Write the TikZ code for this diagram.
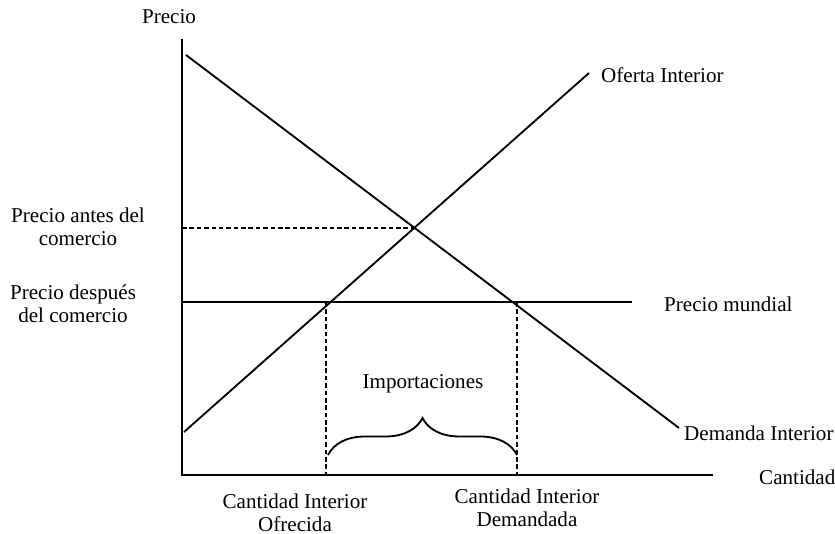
\documentclass[tikz,border=0pt]{standalone}
\usepackage{fontspec}
\setmainfont{Liberation Serif}
\usetikzlibrary{decorations.pathreplacing}
\tikzset{
    curve/.style = {line width = 1.05pt},
    guide/.style = {line width = 0.95pt, dash pattern = on 2.6pt off 1.6pt},
    lbl/.style = {font = \fontsize{12}{13}\selectfont, align = center, inner sep = 0.5pt}
}
\begin{document}
\begin{tikzpicture}
    \useasboundingbox (0, 0) rectangle (16.7, 10.68);

    \pgfmathsetmacro{\xo}{3.64};
    \pgfmathsetmacro{\yo}{1.18};
    \pgfmathsetmacro{\ym}{4.64};

    % ejes
    \coordinate (O) at (\xo, \yo);
    \coordinate (ytop) at (\xo, 9.9);
    \coordinate (xend) at (14.26, \yo);
    \draw [curve] (ytop) -- (O) -- (xend);
    \node (precio) [lbl] at (3.38, 10.34) {Precio};
    \node (cantidad) [lbl, anchor = west] at (15.16, 1.14) {Cantidad};

    % oferta y demanda
    \coordinate (D1) at (3.72, 9.58);
    \coordinate (D2) at (13.58, 2.12);
    \coordinate (S1) at (3.68, 2.04);
    \coordinate (S2) at (11.78, 9.22);
    \draw [curve] (D1) -- (D2);
    \draw [curve] (S1) -- (S2);
    \node (oferta) [lbl, anchor = west] at (12.0, 9.18) {Oferta Interior};
    \node (demanda) [lbl, anchor = west] at (13.66, 2.02) {Demanda Interior};

    % equilibrio sin comercio
    \coordinate (E) at (intersection of D1--D2 and S1--S2);
    \draw [guide] (O |- E) -- (E);
    \node (antes) [lbl] at (1.56, 6.14) {Precio antes del\\comercio};

    % precio mundial
    \coordinate (W1) at (\xo, \ym);
    \coordinate (W2) at (12.64, \ym);
    \draw [curve] (W1) -- (W2);
    \node (mundial) [lbl, anchor = west] at (13.26, 4.6) {Precio mundial};
    \node (despues) [lbl] at (1.46, 4.6) {Precio después\\del comercio};

    \coordinate (A) at (6.52, \ym);
    \coordinate (B) at (10.34, \ym);
    \draw [guide] (A) -- (A |- O);
    \draw [guide] (B) -- (B |- O);
    \node (ofrecida) [lbl] at (5.9, 0.42) {Cantidad Interior\\Ofrecida};
    \node (demandada) [lbl] at (10.54, 0.52) {Cantidad Interior\\Demandada};

    % importaciones
    \draw [curve, decorate, decoration = {brace, amplitude = 0.74cm}]
        ([xshift = 0.04cm] A |- 0, 1.58) -- (B |- 0, 1.58);
    \node (import) [lbl] at (8.46, 3.0) {Importaciones};

\end{tikzpicture}
\end{document}
